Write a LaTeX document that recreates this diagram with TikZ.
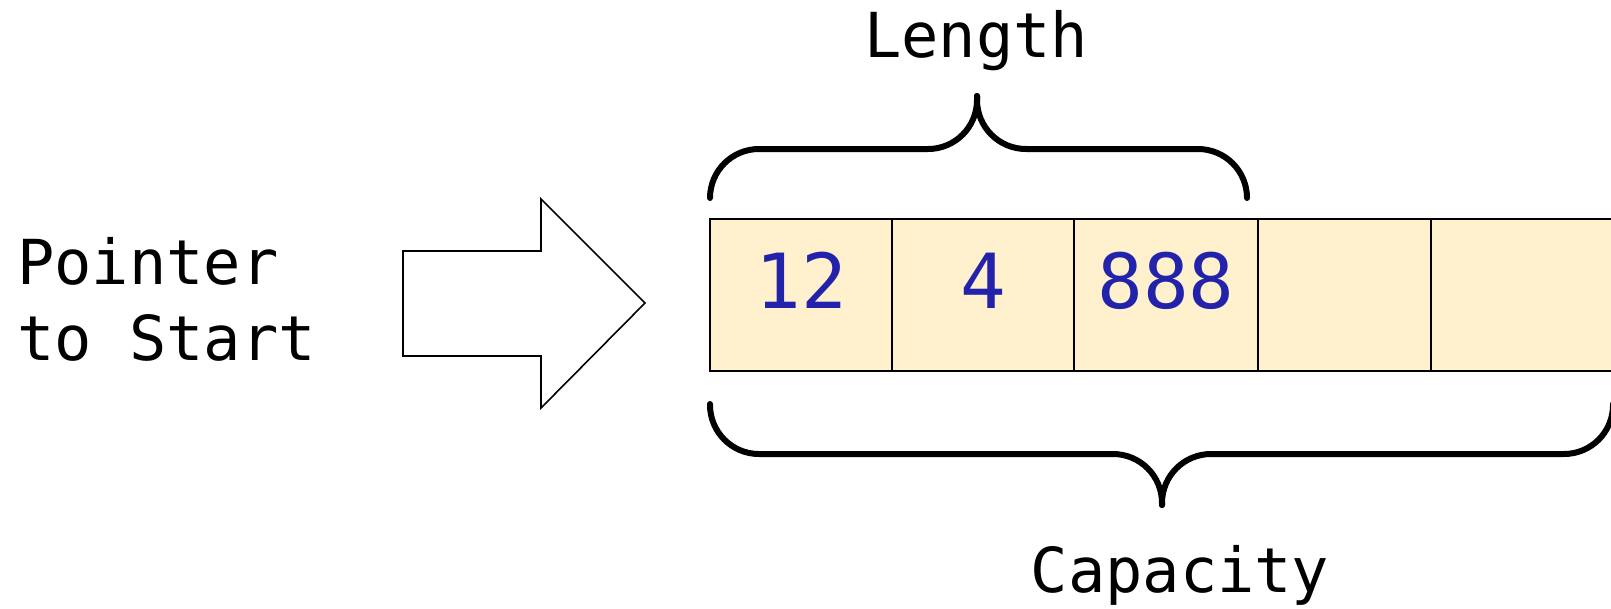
\documentclass[tikz,border=0pt]{standalone}
\usepackage{fontspec}
\newfontfamily\codefont{DejaVu Sans Mono}
\definecolor{cellfill}{HTML}{FFF1CE}
\definecolor{numblue}{HTML}{2222AA}
\begin{document}
\begin{tikzpicture}[x=1pt,y=-1pt,
  cell/.style={draw=black, line width=2pt, fill=cellfill, anchor=north west,
    minimum height=152pt, inner sep=0pt, outer sep=0pt},
  num/.style={text=numblue, font=\codefont\fontsize{76}{76}\selectfont, anchor=base, inner sep=0pt},
  lbl/.style={font=\codefont\fontsize{62}{76}\selectfont, inner sep=0pt},
  brace/.style={line width=6pt, rounded corners=49pt, line cap=round},
  blockarrow/.style={draw=black, line width=1.6pt, fill=white, line join=miter}]
\useasboundingbox (0,0) rectangle (1611,608);
\begin{scope}
\clip (0,0) rectangle (1611,608);
% array cells
\node[cell, minimum width=182pt] (c1) at (710,219) {};
\node[cell, minimum width=182pt] (c2) at (892,219) {};
\node[cell, minimum width=184pt] (c3) at (1074,219) {};
\node[cell, minimum width=173pt] (c4) at (1258,219) {};
\node[cell, minimum width=220pt] (c5) at (1431,219) {};
% values
\node[num] (n1) at (c1.center |- 0,308) {12};
\node[num] (n2) at (c2.center |- 0,308) {4};
\node[num] (n3) at (c3.center |- 0,308) {888};
% length brace
\coordinate (lenL) at (710,198);
\coordinate (lenR) at (1247,198);
\coordinate (lenTip) at (977,96);
\draw[brace] (lenL) -- (710,149) -- (977,149) -- (lenTip);
\draw[brace] (lenR) -- (1247,149) -- (977,149) -- (lenTip);
% capacity brace
\coordinate (capL) at (710,404);
\coordinate (capR) at (1613,404);
\coordinate (capTip) at (1162,505);
\draw[brace] (capL) -- (710,454) -- (1162,454) -- (capTip);
\draw[brace] (capR) -- (1613,454) -- (1162,454) -- (capTip);
\end{scope}
% block arrow
\draw[blockarrow] (403,251) -- (541,251) -- (541,199) -- (645,303) -- (541,408) -- (541,356) -- (403,356) -- cycle;
% labels
\node[lbl, anchor=base] (len) at (976,57) {Length};
\node[lbl, anchor=base] (cap) at (1180,592) {Capacity};
\node[lbl, anchor=base west, align=left] (ptr) at (17,360) {Pointer\\to Start};
\end{tikzpicture}
\end{document}
